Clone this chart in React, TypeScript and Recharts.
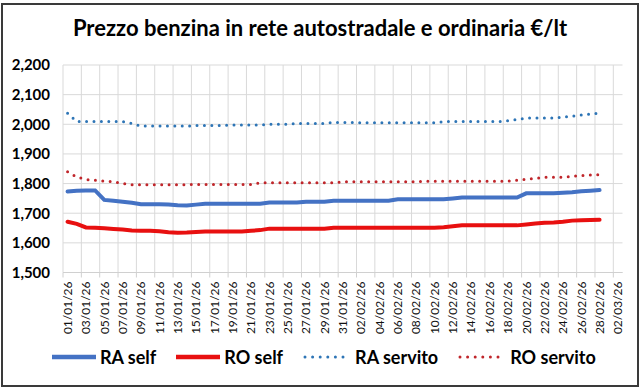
import { LineChart, Line, XAxis, YAxis, CartesianGrid } from "recharts";

const DATES = [
  "01/01/26", "02/01/26", "03/01/26", "04/01/26", "05/01/26", "06/01/26", "07/01/26", "08/01/26",
  "09/01/26", "10/01/26", "11/01/26", "12/01/26", "13/01/26", "14/01/26", "15/01/26", "16/01/26",
  "17/01/26", "18/01/26", "19/01/26", "20/01/26", "21/01/26", "22/01/26", "23/01/26", "24/01/26",
  "25/01/26", "26/01/26", "27/01/26", "28/01/26", "29/01/26", "30/01/26", "31/01/26", "01/02/26",
  "02/02/26", "03/02/26", "04/02/26", "05/02/26", "06/02/26", "07/02/26", "08/02/26", "09/02/26",
  "10/02/26", "11/02/26", "12/02/26", "13/02/26", "14/02/26", "15/02/26", "16/02/26", "17/02/26",
  "18/02/26", "19/02/26", "20/02/26", "21/02/26", "22/02/26", "23/02/26", "24/02/26", "25/02/26",
  "26/02/26", "27/02/26", "28/02/26", "01/03/26", "02/03/26",
];

const RA_SELF = [
  1773, 1776, 1777, 1777, 1745, 1742, 1739, 1735, 1730, 1730, 1730, 1729, 1727, 1726, 1729,
  1732, 1732, 1732, 1732, 1732, 1732, 1732, 1736, 1736, 1736, 1736, 1739, 1739, 1739, 1742,
  1742, 1742, 1742, 1742, 1742, 1742, 1747, 1747, 1747, 1747, 1747, 1747, 1750, 1753, 1753,
  1753, 1753, 1753, 1753, 1753, 1767, 1767, 1767, 1767, 1769, 1771, 1774, 1776, 1778,
];

const RO_SELF = [
  1671, 1664, 1652, 1651, 1649, 1647, 1645, 1642, 1641, 1641, 1639, 1636, 1634, 1635, 1637,
  1638, 1638, 1638, 1638, 1638, 1641, 1643, 1648, 1648, 1648, 1648, 1648, 1648, 1648, 1651,
  1651, 1651, 1651, 1651, 1651, 1651, 1651, 1651, 1651, 1651, 1651, 1653, 1656, 1659, 1659,
  1659, 1659, 1659, 1659, 1659, 1662, 1665, 1668, 1669, 1671, 1675, 1676, 1677, 1678,
];

const RA_SERVITO = [
  2037, 2009, 2009, 2009, 2009, 2009, 2009, 2003, 1994, 1994, 1994, 1994, 1994, 1994, 1996,
  1996, 1996, 1996, 1998, 1998, 1998, 1998, 2000, 2000, 2000, 2003, 2003, 2003, 2003, 2006,
  2006, 2006, 2005, 2005, 2005, 2005, 2005, 2005, 2005, 2005, 2005, 2009, 2009, 2009, 2009,
  2009, 2009, 2009, 2012, 2016, 2021, 2021, 2021, 2021, 2024, 2027, 2031, 2035, 2038,
];

const RO_SERVITO = [
  1840, 1822, 1814, 1811, 1808, 1806, 1800, 1796, 1796, 1796, 1796, 1796, 1796, 1796, 1797,
  1797, 1797, 1797, 1797, 1797, 1797, 1803, 1803, 1803, 1803, 1803, 1803, 1803, 1803, 1803,
  1806, 1806, 1806, 1806, 1806, 1806, 1806, 1806, 1806, 1808, 1808, 1808, 1808, 1808, 1808,
  1808, 1808, 1808, 1808, 1811, 1815, 1818, 1821, 1821, 1821, 1824, 1827, 1829, 1830,
];

const Y_TICKS = [1500, 1600, 1700, 1800, 1900, 2000, 2100, 2200];

const TITLE = "Prezzo benzina in rete autostradale e ordinaria €/lt";

const SERIES = [
  { key: "raSelf", name: "RA self", color: "#4472C4", dotted: false },
  { key: "roSelf", name: "RO self", color: "#E81010", dotted: false },
  { key: "raServito", name: "RA servito", color: "#2E75B6", dotted: true },
  { key: "roServito", name: "RO servito", color: "#C0262B", dotted: true },
];

const W = 642;
const H = 389;
const Y_AXIS_W = 63;
const RIGHT = 19.5;
const TOP = 65;
const X_AXIS_H = 70;
const BOTTOM = 46.5;
const SLOT = (W - Y_AXIS_W - RIGHT) / DATES.length;
const FONT = "Lato, 'Open Sans', sans-serif";

const data = DATES.map((date, i) => ({
  date,
  raSelf: RA_SELF[i] ?? null,
  roSelf: RO_SELF[i] ?? null,
  raServito: RA_SERVITO[i] ?? null,
  roServito: RO_SERVITO[i] ?? null,
}));

// label sits on the slot centre, tick mark on the slot boundary (like Excel date axis)
const DateTick = ({ x, y, payload }: any) => {
  const axisY = y - 8;
  return (
    <g>
      <line x1={x - SLOT / 2} x2={x - SLOT / 2} y1={axisY} y2={axisY + 5} stroke="#d0d0d0" />
      <text
        x={x}
        y={y + 1}
        dy="0.36em"
        transform={`rotate(-90, ${x}, ${y + 1})`}
        textAnchor="end"
        fontSize={12}
        fontFamily={FONT}
        fill="#111"
      >
        {payload.value}
      </text>
    </g>
  );
};

const gridX = ({ offset }: any) => {
  const out: number[] = [];
  for (let k = 0; k * 2 < DATES.length; k++) out.push(offset.left + k * 2 * SLOT);
  return out;
};

export default function App() {
  return (
    <div
      style={{
        position: "absolute",
        left: 0,
        top: 0,
        width: W,
        height: H,
        background: "#fff",
        fontFamily: FONT,
        overflow: "hidden",
      }}
    >
      <div
        style={{
          position: "absolute",
          left: 1,
          top: 3,
          width: 638,
          height: 384,
          border: "2px solid #3a3a3a",
          boxSizing: "border-box",
        }}
      />
      <div
        style={{
          position: "absolute",
          left: 0,
          top: 17,
          width: W - 2,
          textAlign: "center",
          fontSize: 22,
          fontWeight: 700,
          lineHeight: "22px",
          color: "#000",
        }}
      >
        {TITLE}
      </div>
      <div style={{ position: "absolute", left: 0, top: 0 }}>
        <LineChart
          width={W}
          height={H}
          data={data}
          margin={{ top: TOP, right: RIGHT, left: 0, bottom: BOTTOM }}
        >
          <CartesianGrid stroke="#d9d9d9" verticalCoordinatesGenerator={gridX} />
          <XAxis
            dataKey="date"
            interval={1}
            height={X_AXIS_H}
            padding={{ left: SLOT / 2, right: SLOT / 2 }}
            tickLine={false}
            axisLine={{ stroke: "#d0d0d0" }}
            tick={<DateTick />}
          />
          <YAxis
            width={Y_AXIS_W}
            domain={[1500, 2200]}
            ticks={Y_TICKS}
            tickFormatter={(v: number) => v.toLocaleString("en-US")}
            tickLine={false}
            axisLine={false}
            tickMargin={7}
            tick={{ fontSize: 15, fontWeight: 700, fill: "#000", fontFamily: FONT }}
          />
          {SERIES.map((s) => (
            <Line
              key={s.key}
              dataKey={s.key}
              name={s.name}
              type="linear"
              stroke={s.color}
              strokeWidth={s.dotted ? 3 : 4}
              strokeDasharray={s.dotted ? "0 7.4" : undefined}
              strokeLinecap="round"
              dot={false}
              activeDot={false}
              isAnimationActive={false}
            />
          ))}
        </LineChart>
      </div>
      <div
        style={{
          position: "absolute",
          left: 52,
          top: 346,
          display: "flex",
          alignItems: "center",
          gap: 20,
          fontSize: 18,
          fontWeight: 700,
          color: "#000",
          lineHeight: "22px",
        }}
      >
        {SERIES.map((s) => (
          <div key={s.key} style={{ display: "flex", alignItems: "center", gap: s.dotted ? 8 : 4 }}>
            <svg width={44} height={8}>
              <line
                x1={s.dotted ? 2 : 0}
                x2={s.dotted ? 42 : 44}
                y1={4}
                y2={4}
                stroke={s.color}
                strokeWidth={s.dotted ? 3 : 4.5}
                strokeDasharray={s.dotted ? "0 7.6" : undefined}
                strokeLinecap={s.dotted ? "round" : "butt"}
              />
            </svg>
            <span>{s.name}</span>
          </div>
        ))}
      </div>
    </div>
  );
}
